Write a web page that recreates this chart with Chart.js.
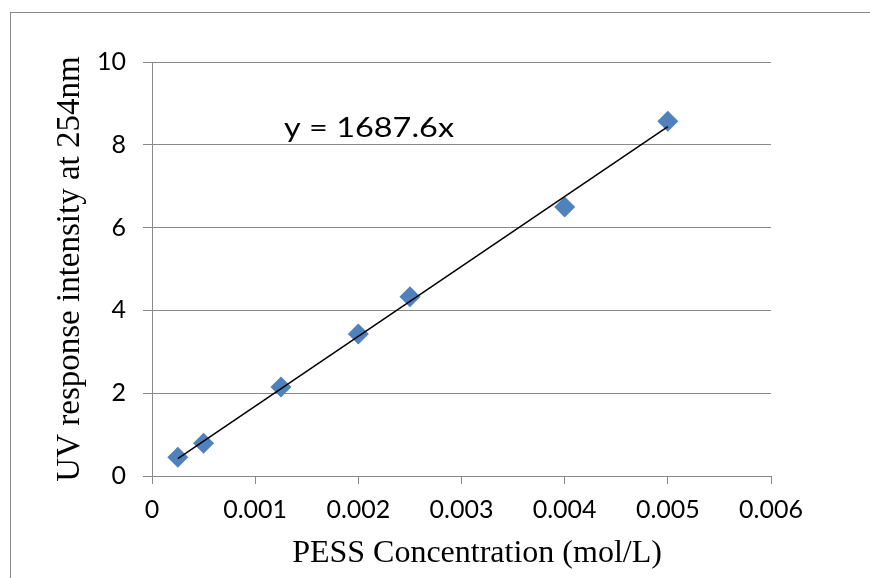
<!DOCTYPE html>
<html>
<head>
<meta charset="utf-8">
<script src="https://cdn.jsdelivr.net/npm/chart.js@4"></script>
<style>
  html, body { margin: 0; padding: 0; background: #fff; }
  #wrap { width: 870px; height: 578px; }
</style>
</head>
<body>
<div id="wrap"><canvas id="myChart"></canvas></div>
<script>
// measured points
const concX = [0.00025, 0.0005, 0.00125, 0.002, 0.0025, 0.004, 0.005];
const uvY = [0.45, 0.79, 2.15, 3.43, 4.33, 6.5, 8.57];
// trendline y = 1687.6x, end points
const trendX = [0.00025, 0.005];
const trendY = [0.42, 8.44];
const xTicks = [0, 0.001, 0.002, 0.003, 0.004, 0.005, 0.006];
const yTicks = [0, 2, 4, 6, 8, 10];
const equation = 'y = 1687.6x';
const xTitle = 'PESS Concentration (mol/L)';

const gridGray = '#898989';

// outer frame, equation label, x title (sits a bit right of centre)
const extras = {
  id: 'extras',
  beforeDraw(chart) {
    const c = chart.ctx;
    c.save();
    c.strokeStyle = '#8a8a8a';
    c.lineWidth = 1;
    c.strokeRect(10.5, 12.5, 900, 600);
    c.restore();
  },
  afterDraw(chart) {
    const c = chart.ctx;
    const px = chart.scales.x.getPixelForValue(0.00128);
    const py = chart.scales.y.getPixelForValue(8.2);
    c.save();
    c.font = '26px Lato';
    c.fillStyle = '#000';
    c.textBaseline = 'alphabetic';
    const w = c.measureText(equation).width;
    c.translate(px, py);
    c.scale(170 / w, 1);
    c.fillText(equation, 0, 0);
    c.restore();

    c.save();
    c.font = '32px "Liberation Serif"';
    c.fillStyle = '#000';
    c.textAlign = 'center';
    c.textBaseline = 'alphabetic';
    c.fillText(xTitle, 477, 562);
    c.restore();
  }
};

const ctx = document.getElementById('myChart').getContext('2d');

new Chart(ctx, {
  type: 'scatter',
  data: {
    datasets: [
      {
        type: 'line',
        data: trendX.map((x, i) => ({ x: x, y: trendY[i] })),
        borderColor: '#000',
        borderWidth: 1.5,
        pointRadius: 0,
        fill: false
      },
      {
        data: concX.map((x, i) => ({ x: x, y: uvY[i] })),
        pointStyle: 'rectRot',
        pointRadius: 10.5,
        pointBackgroundColor: '#4F81BD',
        pointBorderColor: '#4F81BD',
        pointBorderWidth: 0
      }
    ]
  },
  options: {
    responsive: true,
    maintainAspectRatio: false,
    animation: false,
    layout: { padding: { left: 0, top: 62, right: 99, bottom: 0 } },
    scales: {
      x: {
        type: 'linear',
        min: 0,
        max: 0.006,
        afterFit(s) { s.height = 102; },
        afterBuildTicks(s) { s.ticks = xTicks.map(v => ({ value: v })); },
        grid: {
          drawOnChartArea: false,
          drawTicks: true,
          tickLength: 8,
          color: gridGray
        },
        border: { display: true, color: gridGray, width: 1 },
        ticks: {
          padding: 11,
          color: '#000',
          font: { family: 'Lato', size: 25 },
          callback: v => String(v)
        },
        title: { display: false }
      },
      y: {
        min: 0,
        max: 10,
        afterFit(s) { s.width = 152; },
        afterBuildTicks(s) { s.ticks = yTicks.map(v => ({ value: v })); },
        grid: {
          drawTicks: true,
          tickLength: 9,
          color: gridGray
        },
        border: { display: true, color: gridGray, width: 1 },
        ticks: {
          padding: 17,
          color: '#000',
          font: { family: 'Lato', size: 25 }
        },
        title: {
          display: true,
          text: 'UV response intensity at 254nm',
          color: '#000',
          font: { family: 'Liberation Serif', size: 33 },
          padding: { top: 51, bottom: 0 }
        }
      }
    },
    plugins: {
      legend: { display: false },
      tooltip: { enabled: false }
    }
  },
  plugins: [extras]
});
</script>
</body>
</html>
